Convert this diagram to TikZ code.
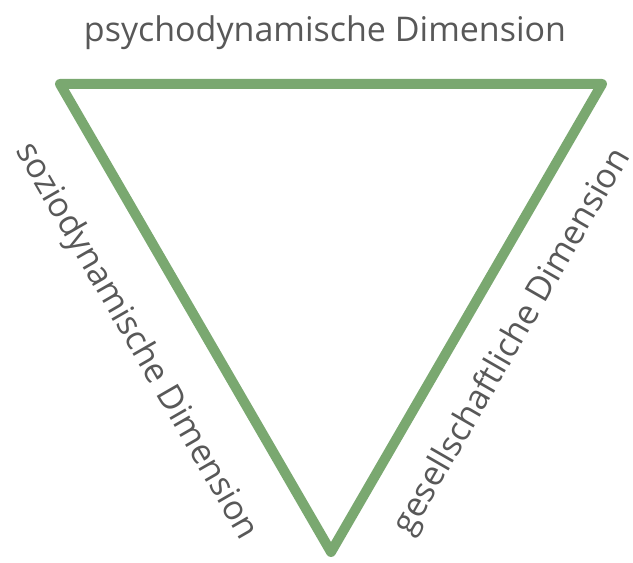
\documentclass[tikz,border=0pt]{standalone}
\usepackage{fontspec}
\setmainfont{Open Sans}
\definecolor{edgegreen}{RGB}{122,168,112}
\definecolor{labelgray}{RGB}{88,88,88}
\tikzset{
  side/.style={edgegreen, line width=10pt, line join=round},
  dimlabel/.style={text=labelgray, font=\fontsize{34}{34}\selectfont, inner sep=0pt}
}

\begin{document}
\begin{tikzpicture}[x=1pt,y=1pt]
\useasboundingbox (0,0) rectangle (633,563);
\coordinate (tl) at (60,479);
\coordinate (tr) at (602,479);
\coordinate (bt) at (331,11);
\draw[side] (tl) -- (tr) -- (bt) -- cycle;
\node[dimlabel] (psycho) at (325,530) {psychodynamische Dimension};
\node[dimlabel, rotate=-60] (sozio) at (136,221) {soziodynamische Dimension};
\node[dimlabel, rotate=60] (gesell) at (513,221) {gesellschaftliche Dimension};
\end{tikzpicture}
\end{document}
